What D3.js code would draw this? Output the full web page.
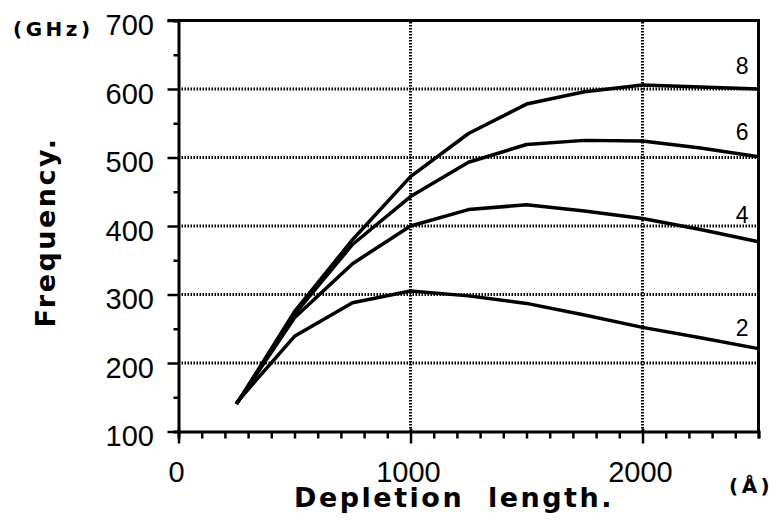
<!DOCTYPE html>
<html>
<head>
<meta charset="utf-8">
<script src="https://cdn.jsdelivr.net/npm/d3@7"></script>
<style>
  body { margin: 0; background: #fff; }
  svg { display: block; }
  .tick-label { font-family: "Liberation Sans", Arial, sans-serif; font-size: 29px; fill: #000; }
  .title { font-family: "DejaVu Sans", sans-serif; font-weight: bold; fill: #000; }
</style>
</head>
<body>
<div id="chart"></div>
<script>
// depletion length (angstrom) and frequency (GHz) for each curve
var depletion = [250, 500, 750, 1000, 1250, 1500, 1750, 2000, 2250, 2500];
var freq2 = [142, 239, 288, 305, 298, 287, 270, 252, 237, 221];
var freq4 = [140, 266, 345, 400, 424, 431, 422, 411, 395, 377];
var freq6 = [140, 271, 373, 443, 493, 519, 525, 524, 514, 501];
var freq8 = [140, 275, 380, 472, 535, 578, 596, 606, 603, 600];

var seriesNames = ["2", "4", "6", "8"];
// where the curve names sit, in data units
var labelX = [2430, 2430, 2430, 2430];
var labelY = [240, 405, 525, 622];

var xTicks = [0, 1000, 2000];
var yTicks = [100, 200, 300, 400, 500, 600, 700];

var svgWidth = 779;
var svgHeight = 520;

var svg = d3.select("#chart")
    .append("svg")
    .attr("width", svgWidth)
    .attr("height", svgHeight);

var x = d3.scaleLinear().domain([0, 2500]).range([178.5, 758.5]);
var y = d3.scaleLinear().domain([100, 700]).range([431.5, 20.5]);

// dotted grid lines
var grid = svg.append("g");
grid.selectAll(".hgrid")
    .data(yTicks.filter(d => d > 100 && d < 700))
    .enter()
    .append("line")
    .attr("x1", x(0)).attr("x2", x(2500))
    .attr("y1", d => y(d)).attr("y2", d => y(d))
    .attr("stroke", "#000")
    .attr("stroke-width", 3)
    .attr("stroke-dasharray", "1.5,1.5");
grid.selectAll(".vgrid")
    .data(xTicks.filter(d => d > 0))
    .enter()
    .append("line")
    .attr("x1", d => x(d)).attr("x2", d => x(d))
    .attr("y1", y(100)).attr("y2", y(700))
    .attr("stroke", "#000")
    .attr("stroke-width", 3)
    .attr("stroke-dasharray", "1.5,1.5");

// bottom axis: minor ticks every 100, long ticks at the labelled values
var bottomAxis = d3.axisBottom(x)
    .tickValues(d3.range(0, 2501, 100))
    .tickSize(7)
    .tickFormat("");
var xAxis = svg.append("g")
    .attr("transform", `translate(0, ${y(100)})`)
    .call(bottomAxis);
xAxis.select(".domain").attr("stroke-width", 3);
xAxis.selectAll(".tick line").attr("stroke-width", 2.5);
xAxis.selectAll(".tick")
    .filter(d => d % 1000 === 0)
    .select("line")
    .attr("y1", -3)
    .attr("y2", 12);

var leftAxis = d3.axisLeft(y)
    .tickValues(d3.range(100, 701, 50))
    .tickSize(5)
    .tickFormat("");
var yAxis = svg.append("g")
    .attr("transform", `translate(${x(0)}, 0)`)
    .call(leftAxis);
yAxis.select(".domain").attr("stroke-width", 3);
yAxis.selectAll(".tick line").attr("stroke-width", 2.5);
yAxis.selectAll(".tick")
    .filter(d => d % 100 === 0)
    .select("line")
    .attr("x2", -11);

// top and right frame
svg.append("line")
    .attr("x1", x(0) - 11).attr("x2", x(2500) + 1.5)
    .attr("y1", y(700)).attr("y2", y(700))
    .attr("stroke", "#000").attr("stroke-width", 3);
svg.append("line")
    .attr("x1", x(2500)).attr("x2", x(2500))
    .attr("y1", y(700)).attr("y2", y(100))
    .attr("stroke", "#000").attr("stroke-width", 3);

// tick labels
svg.selectAll(".ylab")
    .data(yTicks)
    .enter()
    .append("text")
    .attr("class", "tick-label")
    .attr("x", 154)
    .attr("y", d => y(d) + 14.5)
    .attr("text-anchor", "end")
    .text(d => d);

svg.selectAll(".xlab")
    .data(xTicks)
    .enter()
    .append("text")
    .attr("class", "tick-label")
    .attr("x", d => x(d) - 2)
    .attr("y", 482)
    .attr("text-anchor", "middle")
    .text(d => d);

// curves
var allSeries = [freq2, freq4, freq6, freq8];
var line = d3.line()
    .x((d, i) => x(depletion[i]))
    .y(d => y(d));

svg.selectAll(".curve")
    .data(allSeries)
    .enter()
    .append("path")
    .attr("d", d => line(d))
    .attr("fill", "none")
    .attr("stroke", "#000")
    .attr("stroke-width", 3.5)
    .attr("stroke-linejoin", "round");

svg.selectAll(".curveName")
    .data(seriesNames)
    .enter()
    .append("text")
    .attr("x", (d, i) => x(labelX[i]))
    .attr("y", (d, i) => y(labelY[i]))
    .attr("text-anchor", "middle")
    .style("font-family", "Liberation Sans, Arial, sans-serif")
    .style("font-size", "23px")
    .style("font-weight", "500")
    .text(d => d);

// axis titles
svg.append("text")
    .attr("class", "title")
    .attr("x", 454)
    .attr("y", 507)
    .attr("text-anchor", "middle")
    .style("font-size", "27px")
    .style("letter-spacing", "2.5px")
    .style("white-space", "pre")
    .text("Depletion  length.");

svg.append("text")
    .attr("class", "title")
    .attr("transform", "translate(55, 232) rotate(-90)")
    .attr("text-anchor", "middle")
    .style("font-size", "27px")
    .style("letter-spacing", "2.5px")
    .text("Frequency.");

svg.append("text")
    .attr("class", "title")
    .attr("x", 13)
    .attr("y", 36)
    .style("font-size", "20px")
    .style("letter-spacing", "3.5px")
    .text("(GHz)");

svg.append("text")
    .attr("class", "title")
    .attr("x", 729)
    .attr("y", 493)
    .style("font-size", "20px")
    .style("letter-spacing", "3.5px")
    .text("(Å)");
</script>
</body>
</html>
